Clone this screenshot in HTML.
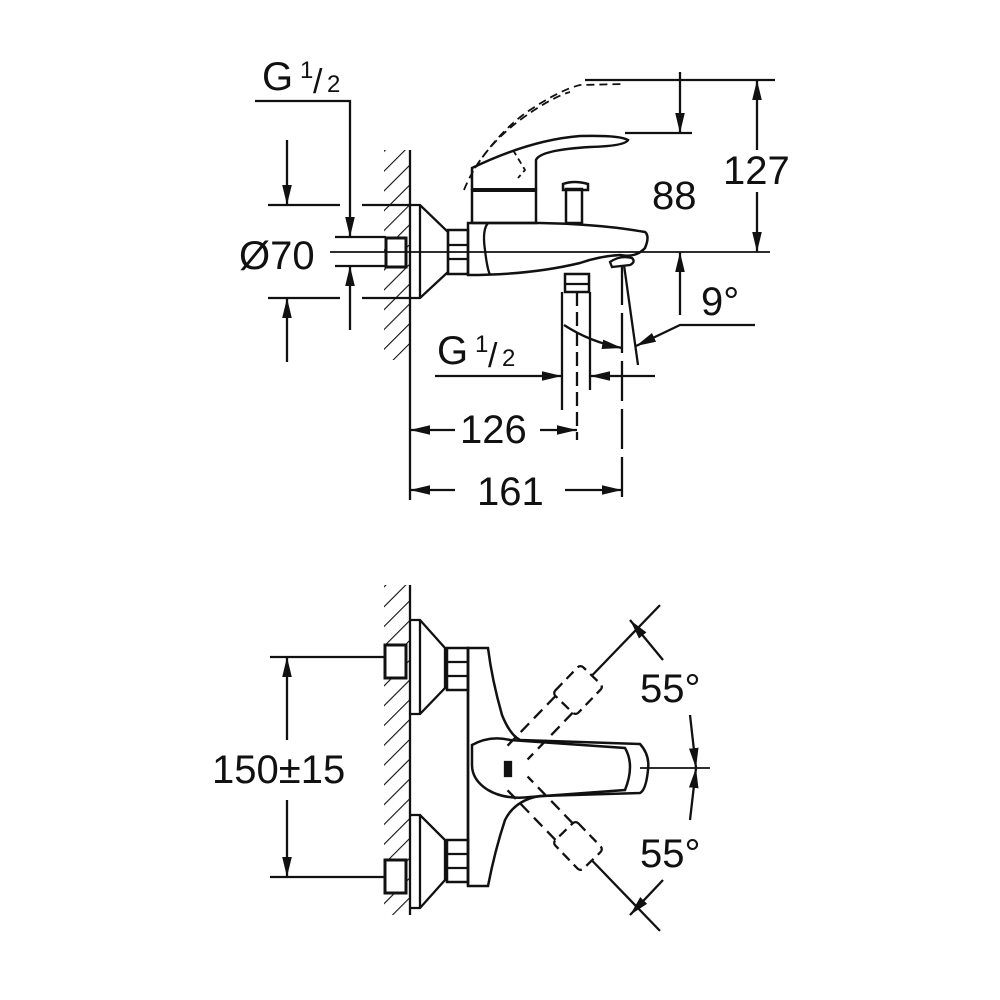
<!DOCTYPE html>
<html><head><meta charset="utf-8"><style>
html,body{margin:0;padding:0;background:#fff;}
svg{display:block;}
text{font-family:"Liberation Sans",sans-serif;fill:#111;}
</style></head><body>
<svg width="1000" height="1000" viewBox="0 0 1000 1000" xmlns="http://www.w3.org/2000/svg">
<defs>
<marker id="a" viewBox="0 0 10 10" refX="10" refY="5" markerWidth="20" markerHeight="20" markerUnits="userSpaceOnUse" orient="auto"><path d="M0,2.6 L10,5 L0,7.4 Z" fill="#111"/></marker>
<pattern id="h" patternUnits="userSpaceOnUse" width="14" height="14" patternTransform="rotate(45)"><line x1="0" y1="0" x2="0" y2="14" stroke="#111" stroke-width="2.2"/></pattern>
</defs>
<g stroke="#111" stroke-width="2.3" fill="none">
<!-- TOP VIEW -->
<rect x="384" y="150" width="26" height="210" fill="url(#h)" stroke="none"/>
<line x1="410" y1="150" x2="410" y2="500"/>
<path d="M410,205 L420,205 L448,232 L448,272 L420,298 L410,298"/>
<line x1="420" y1="205" x2="420" y2="298"/>
<rect x="386" y="238" width="20" height="29" fill="#fff" stroke-width="3"/>
<rect x="448" y="230" width="20" height="44" stroke-width="2.5"/>
<line x1="448" y1="245" x2="468" y2="245"/><line x1="448" y1="259" x2="468" y2="259"/>
<path d="M468,223 L540,223 Q600,224 645,232 Q650,236 645,248 Q636,258 620,255 Q600,256 580,263 Q530,275 468,275 Z" stroke-width="2.5"/>
<path d="M488,223 Q482,230 485,250 Q487,268 490,275"/>
<rect x="472" y="190" width="64" height="33" stroke-width="2.5"/>
<line x1="472" y1="190" x2="536" y2="190" stroke-width="4"/>
<path d="M472,190 L472,168 Q530,140 580,136 Q620,135 628,140 Q625,146 590,147 Q540,150 536,160 L536,190" stroke-width="2.5"/>
<path d="M475,168 Q500,130 530,110 Q560,90 580,85 L625,84" stroke-dasharray="8,5" stroke-width="1.8"/>
<path d="M464,190 Q480,150 520,120 Q550,98 570,92" stroke-dasharray="8,5" stroke-width="1.8"/>
<path d="M513,150 L525,170 L518,178" stroke-dasharray="6,4" stroke-width="1.8"/>
<rect x="566" y="189" width="16" height="34" stroke-width="2.5"/>
<path d="M563,190 L563,184 Q574,180 588,184 L588,190 Z" stroke-width="2.5"/>
<rect x="565" y="274" width="24" height="18" stroke-width="2.5"/>
<line x1="565" y1="284" x2="589" y2="284"/>
<path d="M610,262 Q620,255 632,258 Q636,262 630,265 L612,267 Z"/>
<line x1="330" y1="252" x2="770" y2="252" stroke-width="1.8"/>
<!-- 127 -->
<line x1="585" y1="80" x2="775" y2="80"/>
<line x1="757" y1="150" x2="757" y2="80" marker-end="url(#a)"/>
<line x1="757" y1="192" x2="757" y2="252" marker-end="url(#a)"/>
<!-- 88 -->
<line x1="625" y1="133" x2="692" y2="133"/>
<line x1="680" y1="72" x2="680" y2="133" marker-end="url(#a)"/>
<line x1="680" y1="315" x2="680" y2="252" marker-end="url(#a)"/>
<!-- left dims -->
<line x1="268" y1="205" x2="340" y2="205"/><line x1="362" y1="205" x2="410" y2="205"/>
<line x1="268" y1="298" x2="340" y2="298"/><line x1="362" y1="298" x2="410" y2="298"/>
<line x1="335" y1="237" x2="386" y2="237"/><line x1="335" y1="266" x2="386" y2="266"/>
<line x1="287" y1="140" x2="287" y2="205" marker-end="url(#a)"/>
<line x1="287" y1="362" x2="287" y2="298" marker-end="url(#a)"/>
<polyline points="255,101 350,101 350,237" marker-end="url(#a)"/>
<line x1="350" y1="330" x2="350" y2="266" marker-end="url(#a)"/>
<line x1="562" y1="292" x2="562" y2="410"/>
<line x1="577" y1="292" x2="577" y2="440" stroke-dasharray="14,6"/>
<line x1="590" y1="292" x2="590" y2="390"/>
<line x1="622" y1="265" x2="622" y2="500" stroke-dasharray="40,8"/>
<line x1="624" y1="265" x2="638" y2="365"/>
<path d="M564,325 Q590,342 622,348" marker-end="url(#a)"/>
<polyline points="755,325 680,325 636,346" marker-end="url(#a)"/>
<line x1="435" y1="376" x2="562" y2="376" marker-end="url(#a)"/>
<line x1="655" y1="376" x2="590" y2="376" marker-end="url(#a)"/>
<line x1="455" y1="430" x2="410" y2="430" marker-end="url(#a)"/>
<line x1="540" y1="430" x2="577" y2="430" marker-end="url(#a)"/>
<line x1="455" y1="490" x2="410" y2="490" marker-end="url(#a)"/>
<line x1="565" y1="490" x2="622" y2="490" marker-end="url(#a)"/>

<!-- BOTTOM VIEW -->
<rect x="384" y="585" width="26" height="330" fill="url(#h)" stroke="none"/>
<line x1="410" y1="585" x2="410" y2="915"/>
<path d="M410,620 L420,620 L445,648 L445,688 L420,714 L410,714"/>
<line x1="420" y1="620" x2="420" y2="714"/>
<path d="M410,815 L420,815 L445,840 L445,880 L420,908 L410,908"/>
<line x1="420" y1="815" x2="420" y2="908"/>
<rect x="385" y="645" width="21" height="33" fill="#fff" stroke-width="3"/>
<rect x="385" y="860" width="21" height="33" fill="#fff" stroke-width="3"/>
<rect x="447" y="648" width="21" height="42" stroke-width="2.5"/>
<line x1="447" y1="662" x2="468" y2="662"/><line x1="447" y1="676" x2="468" y2="676"/>
<rect x="447" y="840" width="21" height="42" stroke-width="2.5"/>
<line x1="447" y1="854" x2="468" y2="854"/><line x1="447" y1="868" x2="468" y2="868"/>
<path d="M468,648 L488,648 Q492,680 502,715 Q510,735 520,740 L640,744 Q650,755 648,770 Q646,790 640,793 L540,796 Q515,800 505,820 Q495,850 488,886 L468,886 Z" stroke-width="2.5"/>
<line x1="468" y1="648" x2="468" y2="886" stroke-width="2.5"/>
<path d="M472,745 Q490,735 510,740 L625,748 Q635,765 625,790 L530,797 Q505,800 488,790 Q472,780 472,765 Z" stroke-width="2.5"/>
<rect x="505" y="762" width="6" height="14" fill="#111"/>
<!-- dashed levers -->
<g transform="translate(578,690) rotate(-46)">
<line x1="20" y1="0" x2="118" y2="0"/>
<rect x="-20" y="-16" width="40" height="32" rx="4" stroke-dasharray="10,6"/>
<line x1="-20" y1="-12" x2="-95" y2="-12" stroke-dasharray="12,7"/>
<line x1="-20" y1="12" x2="-85" y2="12" stroke-dasharray="12,7"/>
</g>
<g transform="translate(578,846) rotate(46)">
<line x1="20" y1="0" x2="118" y2="0"/>
<rect x="-20" y="-16" width="40" height="32" rx="4" stroke-dasharray="10,6"/>
<line x1="-20" y1="-12" x2="-85" y2="-12" stroke-dasharray="12,7"/>
<line x1="-20" y1="12" x2="-95" y2="12" stroke-dasharray="12,7"/>
</g>
<line x1="640" y1="768" x2="710" y2="768" stroke-width="1.8"/>
<line x1="663" y1="660" x2="630" y2="620" marker-end="url(#a)"/>
<line x1="690" y1="715" x2="696" y2="768" marker-end="url(#a)"/>
<line x1="690" y1="820" x2="696" y2="768" marker-end="url(#a)"/>
<line x1="663" y1="880" x2="630" y2="915" marker-end="url(#a)"/>
<line x1="270" y1="657" x2="385" y2="657"/>
<line x1="270" y1="877" x2="385" y2="877"/>
<line x1="287" y1="740" x2="287" y2="657" marker-end="url(#a)"/>
<line x1="287" y1="800" x2="287" y2="877" marker-end="url(#a)"/>
</g>
<g font-size="40">
<text x="262" y="90">G</text><text x="300" y="78" font-size="24">1</text><text x="313" y="93" font-size="34">/</text><text x="327" y="92" font-size="24">2</text>
<text x="239" y="269">Ø70</text>
<text x="723" y="184">127</text>
<text x="652" y="209">88</text>
<text x="701" y="315">9°</text>
<text x="437" y="364">G</text><text x="475" y="352" font-size="24">1</text><text x="488" y="367" font-size="34">/</text><text x="502" y="366" font-size="24">2</text>
<text x="460" y="443">126</text>
<text x="477" y="505">161</text>
<text x="212" y="783">150±15</text>
<text x="640" y="702">55°</text>
<text x="640" y="867">55°</text>
</g>
</svg>
</body></html>
